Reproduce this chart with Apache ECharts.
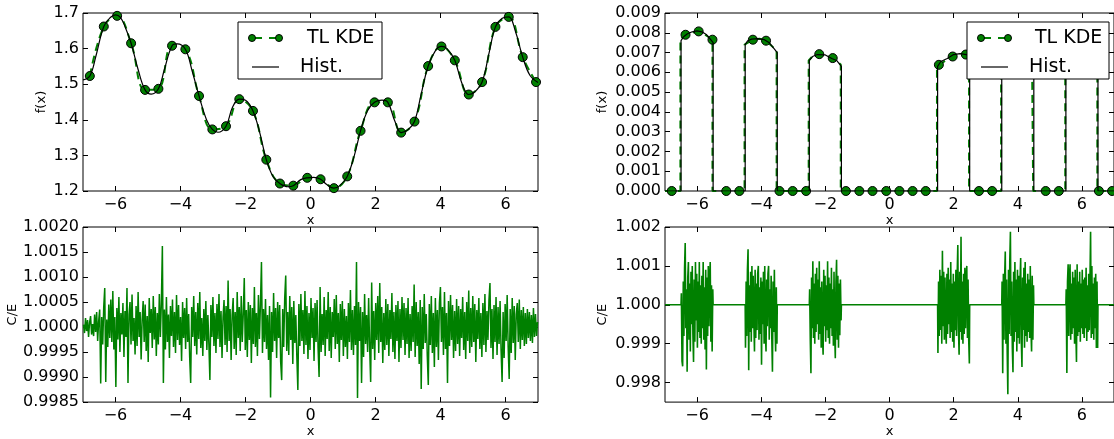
<!DOCTYPE html>
<html>
<head>
<meta charset="utf-8">
<script src="https://cdn.jsdelivr.net/npm/echarts@6/dist/echarts.min.js"></script>
<style>
html,body{margin:0;padding:0;background:#fff;}
#chart{width:1114px;height:439px;}
</style>
</head>
<body>
<div id="chart"></div>
<script>
// ---------- data ----------
const xTicks = [-6, -4, -2, 0, 2, 4, 6];
const yTicksTL = [1.2, 1.3, 1.4, 1.5, 1.6, 1.7];
const yTicksBL = [0.9985, 0.999, 0.9995, 1.0, 1.0005, 1.001, 1.0015, 1.002];
const yTicksTR = [0, 0.001, 0.002, 0.003, 0.004, 0.005, 0.006, 0.007, 0.008, 0.009];
const yTicksBR = [0.998, 0.999, 1.0, 1.001, 1.002];

// TL KDE marker positions (shared by both top panels)
const kdeX = [-6.79,-6.36,-5.95,-5.52,-5.09,-4.68,-4.26,-3.85,-3.43,-3.02,-2.60,-2.19,-1.77,-1.36,-0.94,-0.53,-0.10,0.31,0.72,1.13,1.54,1.97,2.38,2.79,3.20,3.62,4.03,4.44,4.87,5.28,5.69,6.10,6.53,6.94];
const kdeLeftY = [1.523,1.662,1.692,1.615,1.484,1.487,1.608,1.598,1.467,1.373,1.382,1.458,1.425,1.288,1.221,1.215,1.237,1.233,1.208,1.241,1.369,1.449,1.449,1.364,1.395,1.551,1.606,1.567,1.471,1.506,1.661,1.689,1.576,1.506];
const kdeRightY = [0,0.0079,0.00807,0.00765,0,0,0.00765,0.0076,0,0,0,0.00692,0.00672,0,0,0,0,0,0,0,0.00638,0.0068,0.0069,0,0,0.0075,0.0077,0.0074,0,0,0.0079,0.0081,0,0];

// Histogram curve, left panel
const histLeftX = [-7,-6.79,-6.6,-6.36,-6.15,-6.0,-5.85,-5.7,-5.52,-5.3,-5.09,-4.9,-4.68,-4.5,-4.26,-4.1,-3.85,-3.65,-3.43,-3.2,-3.02,-2.85,-2.6,-2.4,-2.19,-2.0,-1.77,-1.55,-1.36,-1.15,-0.94,-0.7,-0.53,-0.3,-0.1,0.1,0.31,0.5,0.72,0.9,1.13,1.35,1.54,1.75,1.97,2.2,2.38,2.6,2.79,3.0,3.2,3.4,3.62,3.85,4.03,4.2,4.44,4.65,4.87,5.05,5.28,5.5,5.69,5.9,6.1,6.3,6.53,6.75,7.0];
const histLeftY = [1.512,1.523,1.58,1.662,1.688,1.695,1.688,1.66,1.615,1.54,1.484,1.472,1.487,1.54,1.608,1.613,1.598,1.54,1.467,1.40,1.373,1.365,1.382,1.435,1.458,1.455,1.425,1.36,1.288,1.24,1.221,1.212,1.215,1.232,1.237,1.238,1.233,1.218,1.208,1.215,1.241,1.30,1.369,1.425,1.449,1.455,1.449,1.395,1.364,1.372,1.395,1.47,1.551,1.595,1.606,1.6,1.567,1.505,1.471,1.478,1.506,1.59,1.661,1.685,1.689,1.65,1.576,1.525,1.505];

// Histogram (step), right panel
const histRightX = [-7,-6.5,-6.5,-6.42,-6.3,-6.15,-6.0,-5.85,-5.7,-5.6,-5.5,-5.5,
  -4.5,-4.5,-4.42,-4.3,-4.1,-3.9,-3.75,-3.6,-3.5,-3.5,
  -2.5,-2.5,-2.4,-2.25,-2.0,-1.8,-1.65,-1.5,-1.5,
  1.5,1.5,1.6,1.8,2.0,2.2,2.4,2.5,2.5,
  3.5,3.5,3.6,3.8,4.0,4.2,4.4,4.5,4.5,
  5.5,5.5,5.6,5.8,6.0,6.2,6.4,6.5,6.5,7];
const histRightY = [0,0,0.0076,0.0078,0.00795,0.00805,0.0081,0.00805,0.0079,0.0077,0.0075,0,
  0,0.0074,0.0076,0.00768,0.0077,0.00765,0.0075,0.0072,0.0070,0,
  0,0.0066,0.0068,0.0069,0.00688,0.0067,0.0066,0.0063,0,
  0,0.0063,0.00655,0.0067,0.0069,0.00695,0.0069,0.0068,0,
  0,0.0071,0.0074,0.0076,0.0077,0.00765,0.0075,0.0073,0,
  0,0.0075,0.0078,0.0080,0.0081,0.0080,0.0078,0.0076,0,0];

// TL KDE curve, right panel
const kdeLineRightX = [-7,-6.52,-6.52,-6.36,-6.15,-5.95,-5.75,-5.52,-5.52,
  -4.52,-4.52,-4.26,-4.05,-3.85,-3.65,-3.52,-3.52,
  -2.52,-2.52,-2.35,-2.19,-1.95,-1.77,-1.52,-1.52,
  1.48,1.48,1.54,1.75,1.97,2.2,2.38,2.48,2.48,
  3.48,3.48,3.62,3.85,4.03,4.25,4.44,4.48,4.48,
  5.48,5.48,5.69,5.9,6.10,6.3,6.48,6.48,7];
const kdeLineRightY = [0,0,0.0077,0.0079,0.0080,0.00807,0.0079,0.00765,0,
  0,0.0074,0.00765,0.0077,0.0076,0.0073,0.0071,0,
  0,0.0066,0.0069,0.00692,0.00685,0.00672,0.0064,0,
  0,0.0063,0.00638,0.0066,0.0068,0.0069,0.0069,0.0068,0,
  0,0.0072,0.0075,0.0076,0.0077,0.0076,0.0074,0.0073,0,
  0,0.0075,0.0079,0.0080,0.0081,0.0079,0.0077,0,0];

// C/E ratio, left panel: deviations from 1 in units of 1e-5, evenly spaced over [-7, 7]
const ceLeftDev = [
  5,-12,18,-8,14,-20,9,22,-15,6,
  -18,25,-10,30,-28,12,35,-113,20,-35,
  40,78,-110,15,-40,45,-22,55,-30,72,
  -45,20,-120,38,-25,60,-50,28,-15,48,
  -60,32,-20,78,-112,25,50,-35,65,-28,
  18,-55,42,-38,70,-20,30,-65,15,52,
  -30,45,-48,22,-70,58,-12,36,-42,62,
  -25,40,-58,28,-35,66,-20,48,162,-112,
  35,-45,60,-30,25,-62,42,-18,55,-40,
  30,-52,64,-26,44,-36,20,-68,50,-22,
  38,-44,58,-30,26,-60,-112,40,-20,62,
  -38,30,-55,48,-24,70,-42,18,-58,36,
  -28,52,-46,24,-34,-106,44,-20,60,-38,
  28,-52,46,-24,66,-40,32,-62,20,54,
  -36,42,-50,93,-28,36,-66,24,58,-44,
  30,-56,70,-22,40,-48,62,-30,26,98,
  -46,34,-60,50,-26,44,-72,38,-34,80,
  -40,28,-58,64,-24,46,130,-52,36,-30,
  56,-44,24,-66,42,-141,30,-50,68,-28,
  38,-62,50,-22,44,-70,-106,36,-40,58,
  103,-48,30,-56,62,-26,40,-74,52,-32,
  24,-60,-126,46,-38,66,-28,34,-54,72,
  -36,42,-64,28,-46,58,-22,38,-68,48,
  -30,54,-42,-100,80,-50,26,-36,60,-58,
  34,-24,70,-48,40,-62,30,-20,56,-44,
  64,-34,28,-70,46,-26,52,-58,36,-40,
  22,-64,48,-30,74,-46,34,-56,42,-36,
  130,-142,50,-28,40,-112,30,-60,66,-34,
  24,-50,58,-40,-110,89,-44,32,-66,48,
  -26,62,-52,88,-30,40,-72,28,-46,56,
  -36,46,-58,34,-24,68,-50,30,-64,44,
  -28,52,-70,36,-42,60,-26,48,-56,38,
  -34,58,-62,26,-48,42,-30,85,-60,50,
  -38,30,-74,54,-124,40,-44,66,-32,26,
  -58,-116,46,-36,62,-52,28,-80,58,-40,
  34,-66,48,80,-30,40,-56,70,-44,28,
  -112,52,-38,64,-26,44,-62,32,-48,56,
  -34,42,-58,36,-22,60,-46,30,-64,50,
  -28,73,-52,38,-40,62,-30,46,-70,34,
  -24,58,-44,28,-60,48,-36,66,-50,32,
  -26,54,88,-42,36,-64,44,-30,60,-56,
  40,-34,52,-48,-110,30,-62,46,-28,64,
  -40,-104,36,-52,58,-32,42,-66,26,48,
  -30,55,-44,34,-26,40,-38,28,-34,36,
  -22,30,-28,24,-32,38,-20,26,-18,10
];

// C/E ratio, right panel: noise only inside the occupied bins (units of 1e-5), 50 samples per bin
const ceRightStarts = [-6.5, -4.5, -2.5, 1.5, 3.5, 5.5];
const ceRightA = [30,-145,-158,60,-80,95,159,-60,40,-172, 70,110,-90,55,-120,85,-50,100,-75,-147, 65,-95,110,-40,80,-110,60,-70,110,-85, 50,-100,75,-60,110,-90,45,-115,90,-166, 70,-80,100,-55,65,110,-95,50,-120,40];
const ceRightB = [-110,60,-80,90,143,-168,50,-70,85,-95, 100,-60,75,-40,-120,90,-85,55,-65,80, 100,-90,45,-75,70,-154,60,-50,85,-100, 100,-70,-120,65,-55,80,100,-90,40,-60, 75,-85,-172,60,-70,90,-50,-120,45,-100];
const ceRightC = [40,-90,-176,70,-60,112,-85,55,-100,80, -70,95,-50,65,-90,112,-75,45,-110,60, -80,-128,90,-55,75,-95,50,-65,112,-85, 70,-100,55,-60,95,-80,40,-105,85,-70, -137,60,116,-90,75,-110,55,-78,65,-40];
const ceRightD = [-124,60,-80,90,-65,75,-100,139,-55,85, -90,70,-60,-100,80,-75,95,-50,65,-85, 110,-70,55,-95,80,-110,60,-65,90,-80, 75,154,-60,-128,85,-70,175,-90,60,-100, 80,-75,95,-60,70,100,-85,65,-90,-151];
const ceRightE = [60,-176,80,-90,70,137,-100,65,-120,-230, 90,-75,110,188,-80,60,-110,-173,85,-95, 110,-70,65,-120,90,-85,75,-100,60,120, -90,-160,70,-65,95,-110,110,-80,55,-95, 80,-70,65,-85,100,-60,-120,75,-90,50];
const ceRightF = [40,-175,60,104,-80,70,104,-90,55,-75, 85,-60,70,-100,90,-65,-147,104,-80,60, -70,85,-95,55,-60,90,-75,65,-85,70, -60,95,-93,50,-70,80,-65,60,188,-85, 100,-75,55,-90,70,-60,80,-111,60,-111];
const ceRightBlocks = [ceRightA, ceRightB, ceRightC, ceRightD, ceRightE, ceRightF];

// ---------- build series data ----------
const pairs = (xs, ys) => xs.map((x, i) => [x, ys[i]]);
const ceLeftStep = 14 / ceLeftDev.length;
const ceLeft = ceLeftDev.map((d, i) => [-7 + (i + 0.5) * ceLeftStep, 1 + d * 1e-5]);
const ceRight = [[-7, 1]];
ceRightBlocks.forEach((blk, k) => {
  const s = ceRightStarts[k];
  const step = 1 / blk.length;
  ceRight.push([s, 1]);
  blk.forEach((d, i) => ceRight.push([s + (i + 0.5) * step, 1 + d * 1e-5]));
  ceRight.push([s + 1, 1]);
});
ceRight.push([7, 1]);

// ---------- layout helpers ----------
const FONT = 'DejaVu Sans';
const GREEN = '#008000';
const grids = [
  {left: 83, top: 13, width: 455, height: 178},
  {left: 83, top: 227, width: 455, height: 177},
  {left: 665, top: 13, width: 455, height: 178},
  {left: 665, top: 227, width: 455, height: 177}
].map(g => Object.assign({show: true, borderColor: '#000', borderWidth: 1, backgroundColor: '#fff'}, g));

const fmtX = v => (v < 0 ? '\u2212' : '') + Math.abs(v);
const tick = (vals) => ({inside: true, length: 5, customValues: vals, lineStyle: {color: '#000', width: 1}});

function xAxes(g) {
  return [
    {gridIndex: g, type: 'value', min: -7, max: 7, position: 'bottom',
     axisLine: {show: false, onZero: false}, splitLine: {show: false},
     axisTick: tick(xTicks),
     axisLabel: {customValues: xTicks, formatter: fmtX, margin: 6, fontSize: 16, fontFamily: FONT, color: '#000'},
     name: 'x', nameLocation: 'middle', nameGap: 21,
     nameTextStyle: {fontSize: 13, fontFamily: FONT, color: '#000'}},
    {gridIndex: g, type: 'value', min: -7, max: 7, position: 'top',
     axisLine: {show: false, onZero: false}, splitLine: {show: false},
     axisTick: tick(xTicks), axisLabel: {show: false}}
  ];
}
function yAxes(g, min, max, ticks, dec, name, gap) {
  return [
    {gridIndex: g, type: 'value', min: min, max: max, position: 'left',
     axisLine: {show: false, onZero: false}, splitLine: {show: false},
     axisTick: tick(ticks),
     axisLabel: {customValues: ticks, formatter: v => v.toFixed(dec), margin: 4, fontSize: 16, fontFamily: FONT, color: '#000'},
     name: name, nameLocation: 'middle', nameRotate: 90, nameGap: gap,
     nameTextStyle: {fontSize: 13, fontFamily: FONT, color: '#000'}},
    {gridIndex: g, type: 'value', min: min, max: max, position: 'right',
     axisLine: {show: false, onZero: false}, splitLine: {show: false},
     axisTick: tick(ticks), axisLabel: {show: false}}
  ];
}

const xAxis = [].concat(xAxes(0), xAxes(1), xAxes(2), xAxes(3));
const yAxis = [].concat(
  yAxes(0, 1.2, 1.7, yTicksTL, 1, 'f(x)', 35),
  yAxes(1, 0.9985, 1.002, yTicksBL, 4, 'C/E', 63),
  yAxes(2, 0, 0.009, yTicksTR, 3, 'f(x)', 56),
  yAxes(3, 0.9975, 1.002, yTicksBR, 3, 'C/E', 56)
);

const series = [
  // top-left
  {name: 'TL KDE', type: 'line', xAxisIndex: 0, yAxisIndex: 0, data: pairs(kdeX, kdeLeftY), smooth: 0.4,
   showSymbol: false, lineStyle: {color: GREEN, width: 2, type: [8, 5]}, z: 2},
  {name: 'TL KDE', type: 'scatter', xAxisIndex: 0, yAxisIndex: 0, data: pairs(kdeX, kdeLeftY), symbolSize: 9,
   itemStyle: {color: GREEN, borderColor: '#000', borderWidth: 1, opacity: 1}, z: 3},
  {name: 'Hist.', type: 'line', xAxisIndex: 0, yAxisIndex: 0, data: pairs(histLeftX, histLeftY), smooth: 0.4,
   showSymbol: false, lineStyle: {color: '#000', width: 1.2}, z: 4},
  // bottom-left
  {name: 'C/E', type: 'line', xAxisIndex: 2, yAxisIndex: 2, data: ceLeft, showSymbol: false,
   lineStyle: {color: GREEN, width: 1.5}},
  // top-right
  {name: 'TL KDE', type: 'line', xAxisIndex: 4, yAxisIndex: 4, data: pairs(kdeLineRightX, kdeLineRightY),
   showSymbol: false, lineStyle: {color: GREEN, width: 2, type: [8, 5]}, z: 2},
  {name: 'TL KDE', type: 'scatter', xAxisIndex: 4, yAxisIndex: 4, data: pairs(kdeX, kdeRightY), symbolSize: 9,
   itemStyle: {color: GREEN, borderColor: '#000', borderWidth: 1, opacity: 1}, z: 3},
  {name: 'Hist.', type: 'line', xAxisIndex: 4, yAxisIndex: 4, data: pairs(histRightX, histRightY),
   showSymbol: false, lineStyle: {color: '#000', width: 1.2}, z: 4},
  // bottom-right
  {name: 'C/E', type: 'line', xAxisIndex: 6, yAxisIndex: 6, data: ceRight, showSymbol: false,
   lineStyle: {color: GREEN, width: 1.6}}
];

function legendBox(x0, y0, w, h, m1, m2, t1, t2) {
  const r1 = y0 + 16, r2 = y0 + 45;
  return [
    {type: 'rect', z: 100, shape: {x: x0, y: y0, width: w, height: h}, style: {fill: '#fff', stroke: '#000', lineWidth: 1}},
    {type: 'line', z: 101, shape: {x1: m1, y1: r1, x2: m2, y2: r1}, style: {stroke: GREEN, lineWidth: 2, lineDash: [10, 7]}},
    {type: 'circle', z: 102, shape: {cx: m1, cy: r1, r: 3.5}, style: {fill: GREEN, stroke: '#000', lineWidth: 1}},
    {type: 'circle', z: 102, shape: {cx: m2, cy: r1, r: 3.5}, style: {fill: GREEN, stroke: '#000', lineWidth: 1}},
    {type: 'text', z: 102, style: {text: 'TL KDE', x: t1, y: r1, font: '19px "DejaVu Sans"', fill: '#000', verticalAlign: 'middle', align: 'left'}},
    {type: 'line', z: 101, shape: {x1: m1, y1: r2, x2: m2, y2: r2}, style: {stroke: '#000', lineWidth: 1.2}},
    {type: 'text', z: 102, style: {text: 'Hist.', x: t2, y: r2, font: '19px "DejaVu Sans"', fill: '#000', verticalAlign: 'middle', align: 'left'}}
  ];
}

const chart = echarts.init(document.getElementById('chart'), null, {renderer: 'canvas'});
chart.setOption({
  animation: false,
  backgroundColor: '#fff',
  grid: grids,
  xAxis: xAxis,
  yAxis: yAxis,
  series: series,
  graphic: [].concat(
    legendBox(238, 22, 144, 57, 252, 279, 307, 300),
    legendBox(967, 22, 142, 57, 981, 1008, 1035, 1029)
  )
});
</script>
</body>
</html>
